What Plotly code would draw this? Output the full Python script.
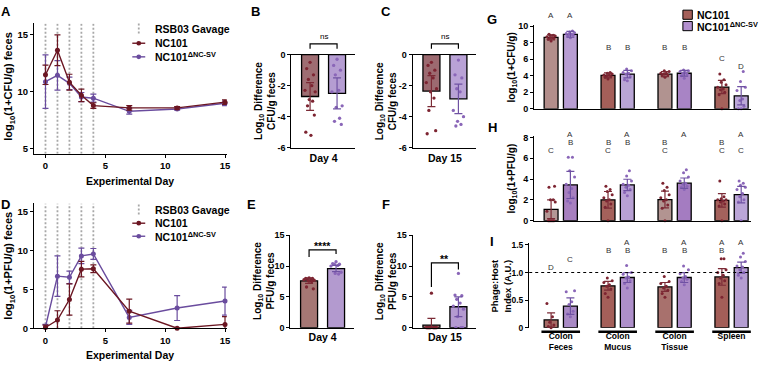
import plotly.graph_objects as go

# ------------------------------------------------------------------ data
days = [0, 1, 2, 3, 4, 7, 11, 15]
gavage_days = [0, 1, 2, 3, 4]
series_names = ["NC101", "NC101<sup>ΔNC-SV</sup>"]

cfu_nc101 = [11.5, 13.65, 10.85, 9.7, 8.8, 8.6, 8.6, 9.1]
cfu_nc101_sd = [0.85, 1.35, 0.7, 0.55, 0.25, 0.2, 0.12, 0.2]
cfu_mut = [10.9, 11.45, 10.75, 9.55, 9.45, 8.3, 8.5, 9.0]
cfu_mut_sd = [2.35, 1.3, 0.55, 0.4, 0.35, 0.25, 0.1, 0.2]

pfu_nc101 = [0.1, 1.05, 3.7, 7.6, 7.65, 2.2, 0.0, 0.5]
pfu_nc101_sd = [0.3, 1.2, 2.0, 1.0, 0.5, 1.55, 0.05, 1.0]
pfu_mut = [0.2, 6.7, 6.55, 9.3, 9.55, 1.4, 2.6, 3.5]
pfu_mut_sd = [0.3, 2.6, 0.8, 1.0, 0.7, 0.9, 1.6, 1.8]

# B: log10 difference CFU, day 4
cfuB_mean = [-2.7, -2.5]
cfuB_sd = [0.9, 1.0]
cfuB_nc101 = [-0.5, -0.9, -1.3, -1.6, -2.0, -2.3, -2.4, -2.9, -3.0, -3.3, -3.9, -5.0, -5.2]
cfuB_mut = [-0.3, -0.7, -1.0, -1.3, -2.3, -2.4, -3.3, -3.4, -4.1, -4.3, -4.5]
# C: day 15
cfuC_mean = [-2.35, -2.85]
cfuC_sd = [1.0, 0.95]
cfuC_nc101 = [-0.5, -0.7, -1.0, -1.2, -1.5, -1.8, -2.2, -2.4, -2.8, -3.6, -4.9, -5.1]
cfuC_mut = [-0.35, -1.3, -1.5, -2.2, -2.4, -3.6, -4.0, -4.3, -4.5, -4.6]
# E: log10 difference PFU, day 4
pfuE_mean = [7.6, 9.6]
pfuE_sd = [0.4, 0.5]
pfuE_nc101 = [8.1, 8.0, 8.0, 7.9, 7.9, 7.8, 7.7, 7.6, 7.5, 6.6, 6.3]
pfuE_mut = [10.7, 10.4, 10.3, 10.3, 10.1, 10.0, 9.0, 8.8, 8.7]
# F: day 15
pfuF_mean = [0.4, 3.4]
pfuF_sd = [1.1, 1.6]
pfuF_nc101 = [5.6, 0, 0, 0, 0, 0, 0, 0, 0, 0, 0, 0]
pfuF_mut = [8.8, 5.3, 5.2, 4.6, 4.0, 3.5, 3.0, 1.8, 0, 0, 0]

# G/H/I: tissues, bars ordered NC101, mutant per tissue
tissues = ["Colon<br>Feces", "Colon<br>Mucus", "Colon<br>Tissue", "Spleen"]
G_mean = [8.63, 9.0, 4.05, 4.2, 4.2, 4.3, 2.63, 1.57]
G_sd = [0.3, 0.35, 0.3, 0.45, 0.3, 0.35, 0.8, 1.1]
G_pts = [
    [8.2, 8.4, 8.5, 8.6, 8.6, 8.7, 8.8, 8.9, 8.9, 9.0],
    [8.6, 8.8, 8.9, 9.0, 9.0, 9.1, 9.2, 9.3, 9.4],
    [3.6, 3.8, 3.9, 4.0, 4.1, 4.1, 4.2, 4.3, 4.4],
    [3.4, 3.5, 3.9, 4.2, 4.3, 4.4, 4.6, 4.8],
    [3.8, 4.0, 4.1, 4.2, 4.3, 4.3, 4.5, 4.6],
    [3.7, 4.0, 4.2, 4.3, 4.4, 4.5, 4.6, 4.7],
    [0.0, 1.7, 2.0, 2.3, 2.4, 2.6, 2.9, 3.2, 3.5, 4.2],
    [0.0, 0.0, 0.3, 1.0, 1.2, 2.2, 2.6, 3.3, 4.5],
]
G_letters = ["A", "A", "B", "B", "B", "B", "C", "D"]
H_mean = [1.09, 3.43, 2.0, 3.43, 2.03, 3.6, 1.95, 2.5]
H_sd = [0.9, 1.3, 0.8, 0.55, 0.8, 0.5, 0.65, 0.8]
H_pts = [
    [0, 0, 0, 0, 0, 0.9, 1.8, 2.0, 2.0, 3.2, 3.3],
    [1.7, 1.9, 2.2, 2.7, 3.1, 3.5, 4.2, 4.8, 6.1, 6.1],
    [0, 1.3, 1.6, 1.9, 2.0, 2.2, 2.5, 2.8, 3.0, 3.3],
    [2.4, 2.7, 3.0, 3.2, 3.4, 3.5, 3.8, 4.3, 4.8],
    [0, 1.2, 1.5, 1.9, 2.0, 2.2, 2.5, 2.9, 3.2, 3.6],
    [3.0, 3.2, 3.3, 3.5, 3.6, 3.8, 4.2, 4.6, 4.9],
    [0, 1.4, 1.6, 1.8, 1.9, 2.0, 2.0, 2.1, 2.3, 3.8],
    [0, 1.8, 2.0, 2.3, 2.6, 3.0, 3.2, 3.4, 3.6, 3.8],
]
H_letters = ["C", "AB", "BC", "AB", "BC", "A", "BC", "AC"]
I_mean = [0.14, 0.39, 0.76, 0.91, 0.74, 0.91, 0.92, 1.09]
I_sd = [0.13, 0.15, 0.08, 0.09, 0.08, 0.09, 0.15, 0.1]
I_pts = [
    [0, 0.02, 0.05, 0.1, 0.2, 0.44],
    [0.2, 0.25, 0.3, 0.42, 0.47, 0.65, 0.67],
    [0.55, 0.62, 0.7, 0.75, 0.78, 0.82, 0.85, 0.9],
    [0.72, 0.8, 0.85, 0.9, 0.92, 0.97, 1.0, 1.13],
    [0.55, 0.62, 0.68, 0.72, 0.75, 0.8, 0.84, 0.93],
    [0.78, 0.84, 0.88, 0.9, 0.93, 0.98, 1.05, 1.12],
    [0.55, 0.8, 0.85, 0.9, 0.95, 1.0, 1.05, 1.25, 1.25],
    [0.9, 0.95, 1.0, 1.05, 1.1, 1.12, 1.2, 1.28, 1.35],
]
I_letters = ["D", "C", "B", "AB", "B", "AB", "AB", "A"]
I_reference = 1.0

# ------------------------------------------------------------------ style / layout
W, H = 761, 368
FONT = "Liberation Sans, Arial, Helvetica, sans-serif"
RED_LINE, PUR_LINE = "#6b1622", "#6a4c9e"
RED_PT, PUR_PT = "#7d2431", "#8a66b8"
RED_ERR, PUR_ERR = "#7b2b36", "#6f52a3"
GAV = "#a8a8a8"


def fx(p):
    return p / W


def fy(p):
    return 1 - p / H


def bold(size, color="black"):
    return dict(family=FONT, size=size, color=color, weight="bold")


def refs(n):
    return ("x", "y") if n == 1 else (f"x{n}", f"y{n}")


def keys(n):
    return ("xaxis", "yaxis") if n == 1 else (f"xaxis{n}", f"yaxis{n}")


AX = dict(showline=True, linecolor="black", linewidth=1.4, ticks="outside", ticklen=3,
          tickwidth=1.2, tickcolor="black", showgrid=False, zeroline=False,
          tickfont=bold(9.5), fixedrange=True)
L = {}


def axes(n, xd, yd, xr, yr, xextra=None, yextra=None):
    xr_, yr_ = refs(n)
    xk, yk = keys(n)
    xa = dict(AX, domain=[fx(xd[0]), fx(xd[1])], range=xr, anchor=yr_)
    ya = dict(AX, domain=[fy(yd[1]), fy(yd[0])], range=yr, anchor=xr_)
    xa.update(xextra or {})
    ya.update(yextra or {})
    L[xk] = xa
    L[yk] = ya


def y_to_paper(n, v):
    ya = L[keys(n)[1]]
    d0, d1 = ya["domain"]
    r0, r1 = ya["range"]
    return d0 + (v - r0) / (r1 - r0) * (d1 - d0)


fig = go.Figure()
shapes, annos = [], []

# ---------------- line panels A and D
line_x = (34.3, 228)
line_xr = [-0.95, 15.15]
axes(1, line_x, (19, 153), line_xr, [4.57, 16],
     dict(tickvals=[0, 5, 10, 15]), dict(tickvals=[5, 10, 15]))
axes(2, line_x, (204, 332.3), line_xr, [0, 16.04],
     dict(tickvals=[0, 5, 10, 15]), dict(tickvals=[0, 5, 10, 15]))


def line_panel(n, yr, series):
    xr_, yr_ = refs(n)
    gx, gy = [], []
    for d in gavage_days:
        gx += [d, d, None]
        gy += [yr[0], yr[1], None]
    fig.add_trace(go.Scatter(x=gx, y=gy, mode="lines", xaxis=xr_, yaxis=yr_,
                             line=dict(color=GAV, width=1.8, dash="2px,2px"), hoverinfo="skip"))
    for ys, sds, c in series:
        fig.add_trace(go.Scatter(x=days, y=ys, mode="lines+markers", xaxis=xr_, yaxis=yr_,
                                 line=dict(color=c, width=1.4), marker=dict(color=c, size=5),
                                 error_y=dict(type="data", array=sds, color=c, thickness=1.2, width=3),
                                 cliponaxis=False))


line_panel(1, [4.57, 16], [(cfu_mut, cfu_mut_sd, PUR_LINE), (cfu_nc101, cfu_nc101_sd, RED_LINE)])
line_panel(2, [0, 16.04], [(pfu_mut, pfu_mut_sd, PUR_LINE), (pfu_nc101, pfu_nc101_sd, RED_LINE)])


def line_legend(rows_px):
    icon_x = 139.5
    g, r1, r2 = rows_px
    shapes.append(dict(type="line", xref="paper", yref="paper", x0=fx(icon_x), x1=fx(icon_x),
                       y0=fy(g - 6), y1=fy(g + 6), line=dict(color=GAV, width=1.8, dash="2px,2px")))
    for yy, c in ((r1, RED_LINE), (r2, PUR_LINE)):
        shapes.append(dict(type="line", xref="paper", yref="paper", x0=fx(133), x1=fx(146),
                           y0=fy(yy), y1=fy(yy), line=dict(color=c, width=1.4)))
        shapes.append(dict(type="circle", xref="paper", yref="paper", x0=fx(icon_x - 2.4),
                           x1=fx(icon_x + 2.4), y0=fy(yy + 2.4), y1=fy(yy - 2.4),
                           fillcolor=c, line=dict(color=c, width=0)))
    for yy, t in ((g, "RSB03 Gavage"), (r1, series_names[0]), (r2, series_names[1])):
        annos.append(dict(xref="paper", yref="paper", x=fx(154), y=fy(yy), text=t, showarrow=False,
                          xanchor="left", yanchor="middle", font=bold(10.5)))


line_legend((25, 39.3, 53.3))
line_legend((211, 224.3, 237.7))

# ---------------- small bar panels B, C, E, F
JIT = [0.0, -0.2, 0.2, -0.1, 0.1, -0.3, 0.3, -0.05, 0.15, -0.15, 0.25, -0.25, 0.05]
pair_x = [0, 1]
pair_xr = [-0.69, 1.67]
pair_w = 0.63


def bar_panel(n, xs, means, sds, pts, fills, width, psize=3.3, jscale=1.0, ecap=4):
    xr_, yr_ = refs(n)
    fig.add_trace(go.Bar(x=xs, y=means, width=width, xaxis=xr_, yaxis=yr_,
                         marker=dict(color=fills, line=dict(color="black", width=1.3))))
    for i, (x, p) in enumerate(zip(xs, pts)):
        pc = RED_PT if i % 2 == 0 else PUR_PT
        xx = [x + JIT[k % len(JIT)] * width * jscale for k in range(len(p))]
        fig.add_trace(go.Scatter(x=xx, y=p, mode="markers", xaxis=xr_, yaxis=yr_, cliponaxis=False,
                                 marker=dict(color=pc, size=psize)))
    for i, (x, m, s) in enumerate(zip(xs, means, sds)):
        ec = RED_ERR if i % 2 == 0 else PUR_ERR
        fig.add_trace(go.Scatter(x=[x], y=[m], mode="markers", xaxis=xr_, yaxis=yr_, cliponaxis=False,
                                 marker=dict(color="rgba(0,0,0,0)", size=1),
                                 error_y=dict(type="data", array=[s], color=ec, thickness=1.2, width=ecap)))


neg_y = dict(tickvals=[0, -2, -4, -6], ticktext=["0", "-2", "-4", "-6"], tickfont=bold(9))
pos_y = dict(tickvals=[0, 5, 10, 15], tickfont=bold(9))


def pair_x_axis(label, mirror):
    return dict(tickvals=[0.5], ticktext=[label], ticks="", mirror=mirror, tickfont=bold(10.5))


axes(3, (293, 357), (51, 146.7), pair_xr, [-6, 0], pair_x_axis("Day 4", True), neg_y)
axes(4, (415, 479), (51, 146.7), pair_xr, [-6, 0], pair_x_axis("Day 15", True), neg_y)
axes(5, (292, 356), (236.7, 331.7), pair_xr, [0, 15], pair_x_axis("Day 4", False), pos_y)
axes(6, (415, 479), (236.7, 331.7), pair_xr, [0, 15], pair_x_axis("Day 15", False), pos_y)

bar_panel(3, pair_x, cfuB_mean, cfuB_sd, [cfuB_nc101, cfuB_mut], ["#9e6d72", "#b59dd2"], pair_w)
bar_panel(4, pair_x, cfuC_mean, cfuC_sd, [cfuC_nc101, cfuC_mut], ["#9c6a70", "#b9a2d6"], pair_w)
bar_panel(5, pair_x, pfuE_mean, pfuE_sd, [pfuE_nc101, pfuE_mut], ["#a57774", "#b39acf"], pair_w)
bar_panel(6, pair_x, pfuF_mean, pfuF_sd, [pfuF_nc101, pfuF_mut], ["#a06a6a", "#b49ad0"], pair_w)


def bracket(n, top, left, right, text, tsize, tbold, ty):
    xr_ = refs(n)[0]
    shapes.append(dict(type="path", xref=xr_, yref="paper",
                       path=f"M {pair_x[0]},{fy(left)} L {pair_x[0]},{fy(top)} L {pair_x[1]},{fy(top)} L {pair_x[1]},{fy(right)}",
                       line=dict(color="black", width=1.2)))
    font = bold(tsize) if tbold else dict(family=FONT, size=tsize, color="black")
    annos.append(dict(xref=xr_, yref="paper", x=(pair_x[0] + pair_x[1]) / 2, y=fy(ty), text=text,
                      showarrow=False, xanchor="center", yanchor="middle", font=font))


bracket(3, 40, 45, 45, "ns", 8, False, 32.5)
bracket(4, 40, 45, 45, "ns", 8, False, 32.5)
bracket(5, 251.7, 259, 256, "****", 10.5, True, 247.5)
bracket(6, 265, 290, 272, "**", 10.5, True, 261)

# ---------------- tissue panels G, H, I
group_step = 2.95
bar_x = [g * group_step + j for g in range(4) for j in (0, 1)]
tis_xr = [-0.876, 10.36]
tis_xr_I = [-1.134, 10.36]
tis_w = 0.72
no_x = dict(showticklabels=False, ticks="")
axes(7, (537, 755), (21, 106.7), tis_xr, [0, 10.08], no_x, dict(tickvals=[0, 2, 4, 6, 8, 10], tickfont=bold(9)))
axes(8, (537, 755), (135, 221.7), tis_xr, [0, 8.1], no_x, dict(tickvals=[0, 2, 4, 6, 8], tickfont=bold(9)))
axes(9, (532, 755), (245, 331.7), tis_xr_I, [0, 1.53],
     dict(showline=False, ticks="", tickvals=[g * group_step + 0.5 for g in range(4)], ticktext=tissues,
          tickfont=bold(8.5), ticklabelstandoff=2),
     dict(tickvals=[0, 0.5, 1.0, 1.5], ticktext=["0", "0.5", "1.0", "1.5"], tickfont=bold(8.5)))

G_fill = ["#b38e8b", "#b89dd2", "#a45f59", "#b9a5d5", "#b19390", "#a884c5", "#a4625b", "#bca8d8"]
H_fill = ["#b49795", "#a77fbf", "#a4615b", "#b8a0d4", "#b29491", "#a47cc1", "#a4625c", "#bba6d7"]
I_fill = ["#a66a65", "#a98ac5", "#a45f59", "#ae8fca", "#a8716d", "#ac8cc8", "#a35e58", "#b49dd1"]
bar_panel(7, bar_x, G_mean, G_sd, G_pts, G_fill, tis_w, psize=3.0, ecap=4)
bar_panel(8, bar_x, H_mean, H_sd, H_pts, H_fill, tis_w, psize=3.0, ecap=4)
bar_panel(9, bar_x, I_mean, I_sd, I_pts, I_fill, tis_w, psize=3.0, ecap=4)

LET_FONT = dict(family=FONT, size=8, color="#333333")
G_letter_y = [11.26, 11.26, 7.46, 7.46, 7.46, 7.46, 6.08, 5.1]
for x, t, yy in zip(bar_x, G_letters, G_letter_y):
    annos.append(dict(xref="x7", yref="paper", x=x, y=y_to_paper(7, yy), text=t, showarrow=False,
                      font=LET_FONT, yanchor="middle"))
for x, t in zip(bar_x, H_letters):
    for ch in t:
        annos.append(dict(xref="x8", yref="paper", x=x, y=y_to_paper(8, 8.26 - 0.75 * (ord(ch) - 65)),
                          text=ch, showarrow=False, font=LET_FONT, yanchor="middle"))
for x, t in zip(bar_x, I_letters):
    for ch in t:
        annos.append(dict(xref="x9", yref="paper", x=x, y=y_to_paper(9, 1.547 - 0.152 * (ord(ch) - 65)),
                          text=ch, showarrow=False, font=LET_FONT, yanchor="middle"))

# reference line and group underlines in I
shapes.append(dict(type="line", xref="x9 domain", yref="y9", x0=0, x1=1, y0=I_reference, y1=I_reference,
                   line=dict(color="black", width=1.1, dash="dot")))
for g in range(4):
    shapes.append(dict(type="line", xref="x9", yref="paper", x0=bar_x[2 * g] - 0.5,
                       x1=bar_x[2 * g + 1] + 0.5, y0=fy(336), y1=fy(336),
                       line=dict(color="black", width=2.5)))

# legend for G
for yy, c, t in ((10, "#a45f59", series_names[0]), (21.7, "#b390cf", series_names[1])):
    shapes.append(dict(type="rect", xref="paper", yref="paper", x0=fx(686.5), x1=fx(696),
                       y0=fy(yy + 4.7), y1=fy(yy - 4.7), fillcolor=c, line=dict(color="black", width=1)))
    annos.append(dict(xref="paper", yref="paper", x=fx(699), y=fy(yy), text=t, showarrow=False,
                      xanchor="left", yanchor="middle", font=bold(10.5)))

# ---------------- panel letters and axis titles
for t, x, y in (("A", 6, 7), ("B", 257, 7), ("C", 388, 7), ("D", 6, 205), ("E", 253, 205),
                ("F", 388, 205), ("G", 495, 15), ("H", 495, 126), ("I", 495, 243)):
    annos.append(dict(xref="paper", yref="paper", x=fx(x), y=fy(y), text=t, showarrow=False,
                      xanchor="center", yanchor="middle", font=bold(13)))

ytitles = [
    ("log<sub>10</sub>(1+CFU/g) feces", 9, 83, 11),
    ("log<sub>10</sub>(1+PFU/g) feces", 9, 268, 11),
    ("Log<sub>10</sub> Difference<br>CFU/g feces", 267, 99, 10),
    ("Log<sub>10</sub> Difference<br>CFU/g feces", 388, 99, 10),
    ("Log<sub>10</sub> Difference<br>PFU/g feces", 266, 284, 10),
    ("Log<sub>10</sub> Difference<br>PFU/g feces", 388, 284, 10),
    ("log<sub>10</sub>(1+CFU/g)", 515, 64, 10),
    ("log<sub>10</sub>(1+PFU/g)", 515, 178, 10),
    ("Phage:Host<br>Index (A.U.)", 503, 288, 9.5),
]
for t, x, y, s in ytitles:
    annos.append(dict(xref="paper", yref="paper", x=fx(x), y=fy(y), text=t, showarrow=False,
                      textangle=-90, xanchor="center", yanchor="middle", font=bold(s)))
for y in (181, 360):
    annos.append(dict(xref="paper", yref="paper", x=fx(131), y=fy(y), text="Experimental Day",
                      showarrow=False, xanchor="center", yanchor="middle", font=bold(10.5)))

fig.update_layout(width=W, height=H, margin=dict(l=0, r=0, t=0, b=0), showlegend=False,
                  paper_bgcolor="white", plot_bgcolor="white", shapes=shapes, annotations=annos,
                  font=dict(family=FONT), **L)
fig.write_html("out.html", include_plotlyjs=True, config={"displayModeBar": False})
